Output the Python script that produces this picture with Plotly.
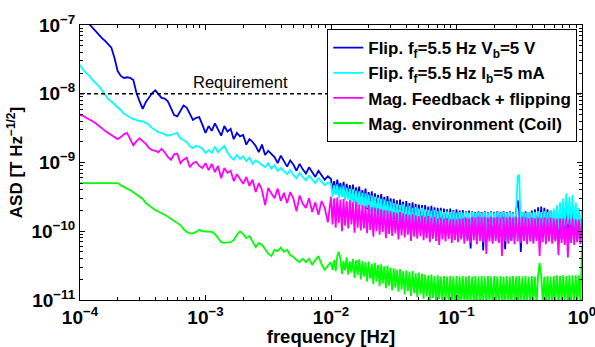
import numpy as np
import plotly.graph_objects as go

# ---------------- data (log10 of ASD in T/sqrt(Hz)) ----------------
# frequency sampling grid: 80 points over 1e-4..1e-2, 161 points over 1e-2..1
log_f = np.concatenate([np.linspace(-4, -2, 81)[:-1], np.linspace(-2, 0, 161)])
freq = 10 ** log_f

blue_lo = [-6.84,-6.88,-6.94,-6.99,-7.04,-7.10,-7.15,-7.19,-7.23,-7.28,
 -7.33,-7.48,-7.67,-7.74,-7.77,-7.76,-7.77,-7.80,-7.99,-8.11,
 -8.22,-8.12,-8.05,-7.99,-7.95,-8.00,-8.06,-8.07,-8.11,-8.21,
 -8.31,-8.33,-8.25,-8.17,-8.20,-8.30,-8.38,-8.35,-8.34,-8.45,
 -8.57,-8.47,-8.54,-8.43,-8.52,-8.61,-8.47,-8.55,-8.51,-8.66,
 -8.57,-8.62,-8.60,-8.74,-8.66,-8.70,-8.76,-8.85,-8.74,-8.89,
 -8.83,-8.88,-8.92,-9.01,-8.90,-8.98,-9.06,-8.97,-9.03,-9.12,
 -9.02,-9.10,-9.16,-9.07,-9.14,-9.21,-9.12,-9.19,-9.25,-9.20]
blue_hi = [-9.24,-9.42,-9.27,-9.46,-9.25,-9.40,-9.30,-9.50,-9.28,-9.52,
 -9.31,-9.50,-9.33,-9.56,-9.32,-9.58,-9.36,-9.54,-9.35,-9.62,
 -9.40,-9.60,-9.38,-9.68,-9.43,-9.64,-9.42,-9.70,-9.45,-9.68,
 -9.47,-9.74,-9.46,-9.72,-9.50,-9.78,-9.49,-9.76,-9.52,-9.82,
 -9.53,-9.80,-9.55,-9.86,-9.54,-9.84,-9.57,-9.90,-9.56,-9.87,
 -9.59,-9.92,-9.58,-9.90,-9.60,-9.95,-9.61,-9.93,-9.62,-9.98,
 -9.62,-9.95,-9.64,-10.00,-9.63,-9.97,-9.65,-10.02,-9.66,-9.99,
 -9.66,-10.04,-9.67,-10.01,-9.68,-10.06,-9.67,-10.03,-9.69,-10.08,
 -9.68,-10.05,-9.70,-10.10,-9.69,-10.06,-9.71,-10.12,-9.70,-10.25,
 -9.71,-10.08,-9.72,-10.13,-9.71,-10.10,-9.72,-10.28,-9.71,-10.12,
 -9.72,-10.09,-9.71,-10.14,-9.72,-10.11,-9.71,-10.15,-9.72,-10.10,
 -9.71,-10.26,-9.72,-10.12,-9.71,-10.14,-9.72,-10.10,-9.70,-9.55,
 -9.70,-10.30,-9.72,-10.12,-9.71,-10.15,-9.72,-10.11,-9.70,-10.14,
 -9.68,-10.10,-9.65,-10.13,-9.64,-10.09,-9.66,-10.14,-9.68,-10.11,
 -9.70,-10.15,-9.71,-10.12,-9.72,-10.16,-9.71,-10.12,-9.72,-10.15,
 -9.71,-10.13,-9.72,-10.16,-9.71,-10.12,-9.72,-10.14,-9.71,-10.12,
 -9.70]

cyan_lo = [-7.58,-7.65,-7.70,-7.74,-7.80,-7.84,-7.89,-7.95,-8.02,-8.08,
 -8.11,-8.15,-8.19,-8.24,-8.29,-8.32,-8.35,-8.37,-8.38,-8.40,
 -8.40,-8.43,-8.45,-8.50,-8.53,-8.56,-8.57,-8.59,-8.61,-8.60,
 -8.59,-8.57,-8.65,-8.67,-8.70,-8.76,-8.79,-8.76,-8.77,-8.80,
 -8.86,-8.82,-8.86,-8.77,-8.85,-8.80,-8.76,-8.85,-8.92,-8.96,
 -8.89,-8.95,-8.91,-8.98,-8.93,-9.02,-8.97,-9.00,-9.04,-9.07,
 -9.01,-9.09,-9.04,-9.12,-9.08,-9.13,-9.17,-9.11,-9.18,-9.23,
 -9.15,-9.21,-9.26,-9.19,-9.24,-9.30,-9.23,-9.28,-9.33,-9.29]
cyan_hi = [-9.31,-9.50,-9.33,-9.47,-9.32,-9.52,-9.35,-9.50,-9.34,-9.55,
 -9.37,-9.54,-9.38,-9.60,-9.39,-9.58,-9.41,-9.64,-9.42,-9.62,
 -9.44,-9.68,-9.45,-9.66,-9.47,-9.72,-9.48,-9.70,-9.50,-9.76,
 -9.51,-9.74,-9.53,-9.80,-9.54,-9.78,-9.56,-9.84,-9.57,-9.81,
 -9.59,-9.88,-9.60,-9.86,-9.62,-9.91,-9.61,-9.89,-9.64,-9.94,
 -9.63,-9.92,-9.66,-9.96,-9.65,-9.94,-9.67,-9.98,-9.66,-9.96,
 -9.68,-10.00,-9.69,-9.97,-9.70,-10.02,-9.69,-9.99,-9.71,-10.03,
 -9.70,-10.00,-9.72,-10.04,-9.71,-10.01,-9.72,-10.05,-9.71,-10.02,
 -9.73,-10.05,-9.72,-10.03,-9.73,-10.06,-9.72,-10.03,-9.73,-10.06,
 -9.72,-10.04,-9.73,-10.06,-9.72,-10.04,-9.73,-10.06,-9.72,-10.04,
 -9.73,-10.06,-9.72,-10.04,-9.73,-10.06,-9.72,-10.04,-9.73,-10.06,
 -9.72,-10.04,-9.73,-10.06,-9.72,-10.04,-9.73,-10.06,-9.72,-9.20,
 -9.18,-10.05,-9.72,-10.04,-9.73,-10.06,-9.72,-10.04,-9.73,-10.06,
 -9.72,-10.04,-9.71,-10.05,-9.72,-10.03,-9.71,-10.05,-9.72,-10.03,
 -9.70,-10.04,-9.67,-10.02,-9.62,-9.98,-9.58,-9.95,-9.52,-9.93,
 -9.45,-9.90,-9.50,-9.92,-9.47,-9.95,-9.58,-9.98,-9.66,-10.00,
 -9.70]

magenta_lo = [-8.31,-8.32,-8.35,-8.37,-8.40,-8.43,-8.47,-8.51,-8.54,-8.57,
 -8.60,-8.63,-8.66,-8.63,-8.59,-8.57,-8.66,-8.75,-8.69,-8.65,
 -8.69,-8.73,-8.79,-8.82,-8.83,-8.85,-8.80,-8.85,-8.92,-8.96,
 -8.88,-8.87,-9.01,-8.96,-8.93,-9.07,-9.01,-8.99,-9.05,-9.08,
 -9.01,-9.11,-9.02,-9.14,-9.05,-9.23,-9.08,-9.15,-9.12,-9.27,
 -9.17,-9.24,-9.31,-9.21,-9.34,-9.25,-9.43,-9.30,-9.40,-9.62,
 -9.37,-9.45,-9.52,-9.38,-9.56,-9.44,-9.59,-9.43,-9.52,-9.71,
 -9.48,-9.60,-9.66,-9.52,-9.72,-9.58,-9.76,-9.56,-9.66,-9.87]
magenta_hi = [-9.50,-9.90,-9.52,-9.95,-9.51,-9.88,-9.54,-10.00,-9.53,-9.92,
 -9.56,-9.96,-9.55,-9.90,-9.58,-10.02,-9.57,-9.95,-9.61,-9.99,
 -9.62,-9.96,-9.63,-10.03,-9.62,-9.98,-9.65,-10.08,-9.66,-10.00,
 -9.67,-10.05,-9.68,-10.01,-9.69,-10.10,-9.70,-10.04,-9.71,-10.07,
 -9.72,-10.03,-9.73,-10.12,-9.72,-10.06,-9.74,-10.09,-9.75,-10.05,
 -9.76,-10.14,-9.75,-10.08,-9.77,-10.11,-9.78,-10.07,-9.77,-10.13,
 -9.79,-10.10,-9.78,-10.16,-9.80,-10.11,-9.79,-10.14,-9.81,-10.20,
 -9.80,-10.12,-9.82,-10.15,-9.81,-10.11,-9.83,-10.17,-9.82,-10.13,
 -9.83,-10.16,-9.82,-10.12,-9.81,-10.18,-9.80,-10.14,-9.81,-10.17,
 -9.79,-10.13,-9.80,-10.19,-9.79,-10.14,-9.80,-10.16,-9.79,-10.33,
 -9.80,-10.15,-9.79,-10.18,-9.80,-10.14,-9.79,-10.17,-9.80,-10.36,
 -9.79,-10.15,-9.80,-10.18,-9.79,-10.14,-9.80,-10.19,-9.79,-10.15,
 -9.80,-10.17,-9.79,-10.14,-9.80,-10.19,-9.81,-10.15,-9.80,-10.18,
 -9.81,-10.14,-9.80,-10.36,-9.81,-10.16,-9.80,-10.19,-9.81,-10.15,
 -9.80,-10.18,-9.81,-10.15,-9.82,-10.35,-9.81,-10.17,-9.82,-10.20,
 -9.82,-10.38,-9.83,-10.17,-9.82,-10.20,-9.83,-10.16,-9.83,-10.19,
 -9.82]

green_lo = [-9.30,-9.30,-9.30,-9.30,-9.30,-9.30,-9.30,-9.30,-9.30,-9.30,
 -9.30,-9.30,-9.30,-9.33,-9.36,-9.38,-9.40,-9.43,-9.46,-9.49,
 -9.53,-9.59,-9.63,-9.66,-9.69,-9.71,-9.73,-9.76,-9.79,-9.82,
 -9.85,-9.88,-9.91,-9.97,-10.01,-10.03,-10.03,-10.01,-9.98,-10.00,
 -10.00,-10.01,-10.01,-10.04,-10.10,-10.16,-10.17,-10.16,-10.16,-10.13,
 -10.05,-10.00,-10.04,-10.10,-10.07,-10.15,-10.23,-10.17,-10.20,-10.26,
 -10.33,-10.36,-10.27,-10.29,-10.24,-10.30,-10.27,-10.35,-10.37,-10.42,
 -10.45,-10.40,-10.45,-10.40,-10.49,-10.42,-10.36,-10.48,-10.56,-10.50]
green_hi = [-10.45,-10.56,-10.42,-10.58,-10.36,-10.30,-10.40,-10.62,-10.43,-10.57,
 -10.38,-10.63,-10.44,-10.60,-10.40,-10.68,-10.42,-10.64,-10.41,-10.70,
 -10.43,-10.66,-10.45,-10.73,-10.44,-10.69,-10.47,-10.77,-10.46,-10.73,
 -10.49,-10.80,-10.48,-10.76,-10.51,-10.83,-10.50,-10.79,-10.53,-10.86,
 -10.54,-10.82,-10.56,-10.88,-10.55,-10.85,-10.58,-10.92,-10.57,-10.87,
 -10.59,-10.94,-10.58,-10.90,-10.61,-10.96,-10.60,-10.92,-10.62,-10.98,
 -10.63,-10.95,-10.64,-11.02,-10.63,-10.97,-10.65,-11.04,-10.64,-10.99,
 -10.66,-11.05,-10.65,-11.01,-10.66,-11.06,-10.65,-11.02,-10.66,-11.07,
 -10.65,-11.03,-10.66,-11.08,-10.65,-11.04,-10.66,-11.08,-10.65,-11.03,
 -10.66,-11.07,-10.65,-11.04,-10.66,-11.08,-10.65,-11.03,-10.66,-11.07,
 -10.65,-11.04,-10.66,-11.08,-10.65,-11.03,-10.66,-11.07,-10.65,-11.04,
 -10.66,-11.08,-10.65,-11.03,-10.66,-11.07,-10.65,-11.04,-10.66,-11.08,
 -10.65,-11.03,-10.66,-11.07,-10.65,-11.04,-10.66,-11.08,-10.65,-11.03,
 -10.66,-11.07,-10.65,-10.46,-10.65,-11.04,-10.66,-11.08,-10.65,-11.03,
 -10.66,-11.07,-10.65,-11.04,-10.64,-11.08,-10.65,-11.03,-10.64,-11.07,
 -10.65,-11.04,-10.64,-11.08,-10.64,-11.03,-10.64,-11.07,-10.64,-11.04,
 -10.23]

requirement = 1e-8
series_names = [
    "<b>Flip. f<sub>f</sub>=5.5 Hz V<sub>b</sub>=5 V</b>",
    "<b>Flip. f<sub>f</sub>=5.5 Hz I<sub>b</sub>=5 mA</b>",
    "<b>Mag. Feedback + flipping</b>",
    "<b>Mag. environment (Coil)</b>",
]
series_colors = ["#0000e6", "#00ffff", "#ff00ff", "#00ff00"]
series_values = [blue_lo + blue_hi, cyan_lo + cyan_hi,
                 magenta_lo + magenta_hi, green_lo + green_hi]

x_tick_vals = [1e-4, 1e-3, 1e-2, 1e-1, 1]
x_tick_text = ["<b>10<sup>−4</sup></b>", "<b>10<sup>−3</sup></b>", "<b>10<sup>−2</sup></b>",
               "<b>10<sup>−1</sup></b>", "<b>10<sup>0</sup></b>"]
y_tick_vals = [1e-11, 1e-10, 1e-9, 1e-8, 1e-7]
y_tick_text = ["<b>10<sup>−11</sup></b>", "<b>10<sup>−10</sup></b>", "<b>10<sup>−9</sup></b>",
               "<b>10<sup>−8</sup></b>", "<b>10<sup>−7</sup></b>"]

# ---------------- figure ----------------
FONT = "Liberation Sans, Arial, Helvetica, sans-serif"
fig = go.Figure()
for name, col, vals in zip(series_names, series_colors, series_values):
    fig.add_trace(go.Scatter(x=freq, y=10 ** np.array(vals), mode="lines",
                             name=name, line=dict(color=col, width=1.8)))

fig.add_trace(go.Scatter(x=[1e-4, 1], y=[requirement, requirement], mode="lines",
                         line=dict(color="black", width=1.5, dash="4px,3px"),
                         showlegend=False, hoverinfo="skip"))

minor_x = [m * 10.0 ** e for e in range(-4, 0) for m in range(2, 10)]
minor_y = [m * 10.0 ** e for e in range(-11, -7) for m in range(2, 10)]

axis_common = dict(type="log", showgrid=False, zeroline=False, showline=True,
                   linecolor="black", linewidth=1, mirror="ticks",
                   ticks="inside", ticklen=5, tickcolor="black",
                   ticklabeloverflow="allow", automargin=False,
                   tickfont=dict(family=FONT, size=19, color="black"))

fig.update_layout(
    width=595, height=347,
    margin=dict(l=80, r=13, t=25, b=47, autoexpand=False),
    paper_bgcolor="white", plot_bgcolor="white",
    font=dict(family=FONT, color="black"),
    xaxis=dict(range=[-4, 0], tickmode="array", tickvals=x_tick_vals, ticktext=x_tick_text,
               minor=dict(ticks="inside", ticklen=3, tickcolor="black",
                          tickmode="array", tickvals=minor_x, showgrid=False),
               title=dict(text="<b>frequency [Hz]</b>", standoff=0,
                          font=dict(family=FONT, size=18.5, color="black")),
               **axis_common),
    yaxis=dict(range=[-11, -7], tickmode="array", tickvals=y_tick_vals, ticktext=y_tick_text,
               minor=dict(ticks="inside", ticklen=3, tickcolor="black",
                          tickmode="array", tickvals=minor_y, showgrid=False),
               title=dict(text="<b>ASD [T Hz<sup>−1/2</sup>]</b>", standoff=4,
                          font=dict(family=FONT, size=17, color="black")),
               **axis_common),
    legend=dict(xref="container", yref="container", x=0.55, y=0.916,
                xanchor="left", yanchor="top",
                bgcolor="white", bordercolor="black", borderwidth=1,
                font=dict(family=FONT, size=17, color="black"),
                itemwidth=30, tracegroupgap=0, traceorder="normal"),
    showlegend=True,
)

fig.add_annotation(x=-2.72, y=-8, xref="x", yref="y", text="Requirement",
                   showarrow=False, yanchor="bottom", yshift=1,
                   font=dict(family=FONT, size=16.5, color="black"))

fig.write_html("out.html", config={"displayModeBar": False},
               post_script="document.body.style.margin='0';document.body.style.overflow='hidden';")
